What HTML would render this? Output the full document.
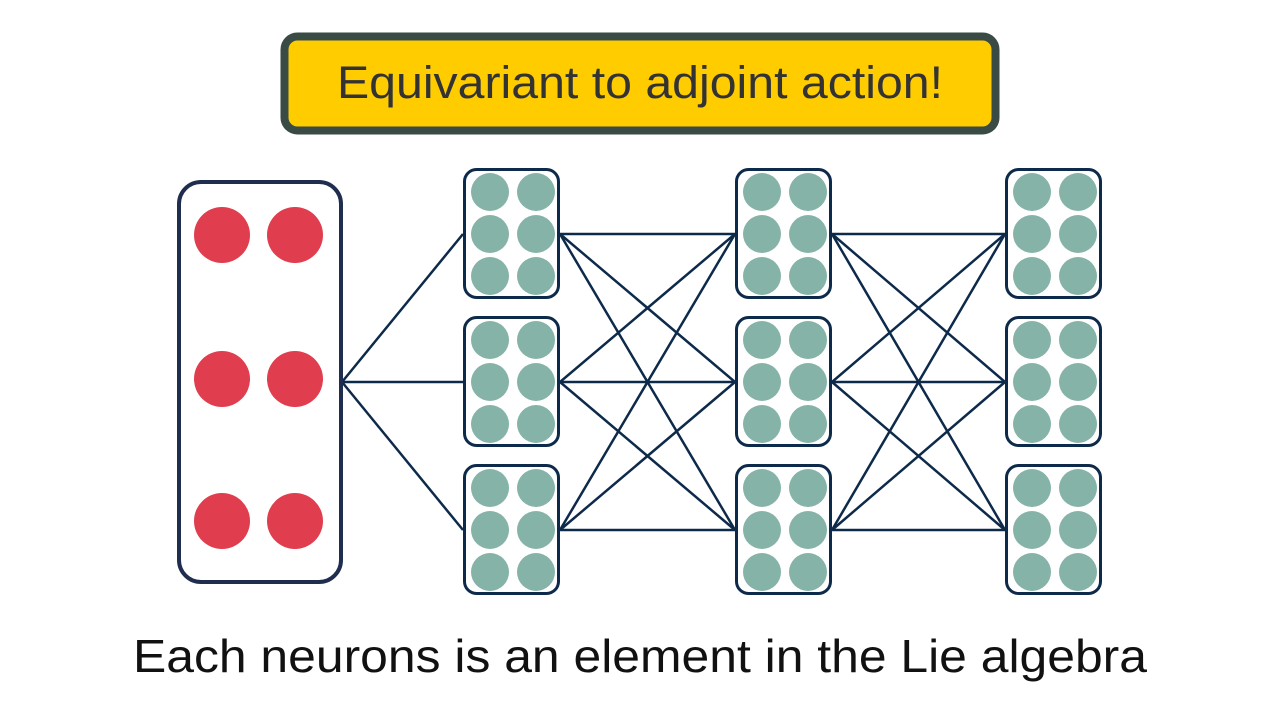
<!DOCTYPE html>
<html><head><meta charset="utf-8"><style>
body{margin:0;width:1280px;height:720px;background:#fff;overflow:hidden;font-family:"Liberation Sans",sans-serif}
</style></head><body>
<svg width="1280" height="720" viewBox="0 0 1280 720" xmlns="http://www.w3.org/2000/svg">
<defs>
<g id="cell">
<rect x="1.5" y="0.5" width="94" height="128" rx="12" fill="#fff" stroke="#0d2a4a" stroke-width="3"/>
<g fill="#86b3a8">
<circle cx="27" cy="23" r="19"/><circle cx="73" cy="23" r="19"/>
<circle cx="27" cy="65" r="19"/><circle cx="73" cy="65" r="19"/>
<circle cx="27" cy="107" r="19"/><circle cx="73" cy="107" r="19"/>
</g>
</g>
</defs>
<rect x="284.5" y="36.5" width="711" height="94" rx="13" fill="#ffcc00" stroke="#3a4a45" stroke-width="8"/>
<text x="337" y="98" textLength="606" lengthAdjust="spacingAndGlyphs" font-family="Liberation Sans, sans-serif" font-size="45" fill="#333">Equivariant to adjoint action!</text>
<g stroke="#0d2a4a" stroke-width="2.5" fill="none">
<line x1="342" y1="382" x2="463" y2="234"/><line x1="342" y1="382" x2="463" y2="382"/><line x1="342" y1="382" x2="463" y2="530"/>
<line x1="560" y1="234" x2="735" y2="234"/><line x1="560" y1="234" x2="735" y2="382"/><line x1="560" y1="234" x2="735" y2="530"/>
<line x1="560" y1="382" x2="735" y2="234"/><line x1="560" y1="382" x2="735" y2="382"/><line x1="560" y1="382" x2="735" y2="530"/>
<line x1="560" y1="530" x2="735" y2="234"/><line x1="560" y1="530" x2="735" y2="382"/><line x1="560" y1="530" x2="735" y2="530"/>
<line x1="832" y1="234" x2="1005" y2="234"/><line x1="832" y1="234" x2="1005" y2="382"/><line x1="832" y1="234" x2="1005" y2="530"/>
<line x1="832" y1="382" x2="1005" y2="234"/><line x1="832" y1="382" x2="1005" y2="382"/><line x1="832" y1="382" x2="1005" y2="530"/>
<line x1="832" y1="530" x2="1005" y2="234"/><line x1="832" y1="530" x2="1005" y2="382"/><line x1="832" y1="530" x2="1005" y2="530"/>
</g>
<rect x="179" y="182" width="162" height="400" rx="22" fill="#fff" stroke="#1f2d4f" stroke-width="4"/>
<g fill="#e03e4f">
<circle cx="222" cy="235" r="28"/><circle cx="295" cy="235" r="28"/>
<circle cx="222" cy="379" r="28"/><circle cx="295" cy="379" r="28"/>
<circle cx="222" cy="521" r="28"/><circle cx="295" cy="521" r="28"/>
</g>
<use href="#cell" x="463" y="169"/><use href="#cell" x="463" y="317"/><use href="#cell" x="463" y="465"/>
<use href="#cell" x="735" y="169"/><use href="#cell" x="735" y="317"/><use href="#cell" x="735" y="465"/>
<use href="#cell" x="1005" y="169"/><use href="#cell" x="1005" y="317"/><use href="#cell" x="1005" y="465"/>
<text x="133" y="672" textLength="1014" lengthAdjust="spacingAndGlyphs" font-family="Liberation Sans, sans-serif" font-size="46" fill="#111">Each neurons is an element in the Lie algebra</text>
</svg>
</body></html>
